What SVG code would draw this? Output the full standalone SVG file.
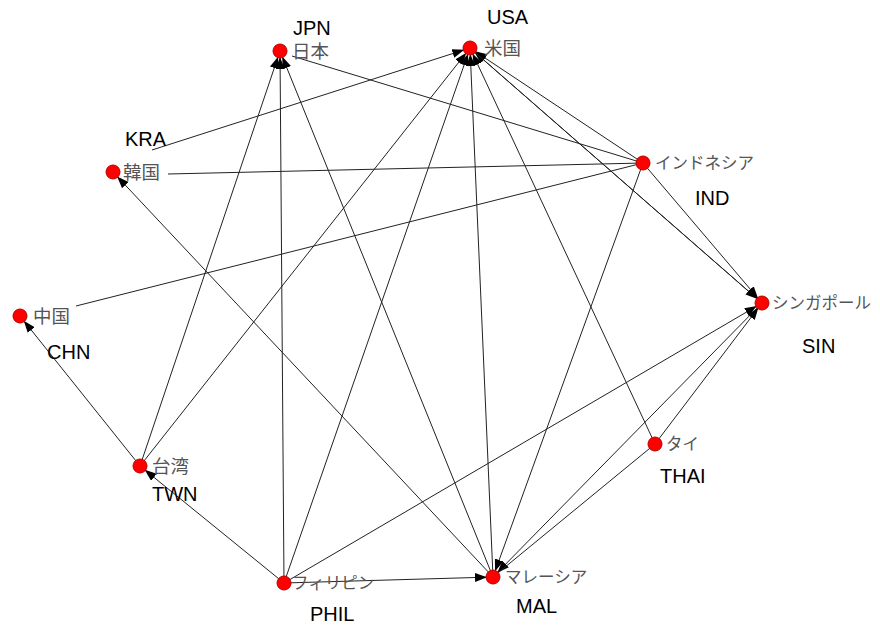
<svg xmlns="http://www.w3.org/2000/svg" width="880" height="628" viewBox="0 0 880 628">
<style>
.e{stroke:#222;stroke-width:1;fill:none}
.a{marker-end:url(#ah)}
.n{fill:#f00;stroke:#b00;stroke-width:1}
.jp{font-family:"Liberation Sans","Noto Sans CJK JP",sans-serif;font-size:16.5px;fill:#555}
.kj{font-size:18.5px}
.en{font-family:"Liberation Sans",Arial,sans-serif;font-size:20px;fill:#000}
</style>
<defs>
<marker id="ah" markerUnits="userSpaceOnUse" markerWidth="20" markerHeight="10" refX="18" refY="4.5" orient="auto">
<path d="M0,0 L12,4.5 L0,9 z" fill="#000"/>
</marker>
</defs>
<rect width="880" height="628" fill="#fff"/>
<g id="edges">
<line class="e a" x1="152" y1="150" x2="470" y2="48"/>
<line class="e" x1="643" y1="163" x2="168" y2="174"/>
<line class="e a" x1="493" y1="577" x2="113" y2="172"/>
<line class="e" x1="643" y1="163" x2="76" y2="306"/>
<line class="e a" x1="140" y1="466" x2="20" y2="316"/>
<line class="e a" x1="284" y1="583" x2="140" y2="466"/>
<line class="e a" x1="140" y1="466" x2="280" y2="51"/>
<line class="e a" x1="284" y1="583" x2="280" y2="51"/>
<line class="e a" x1="493" y1="577" x2="280" y2="51"/>
<line class="e" x1="292" y1="56" x2="643" y2="163"/>
<line class="e a" x1="140" y1="466" x2="470" y2="48"/>
<line class="e a" x1="284" y1="583" x2="470" y2="48"/>
<line class="e a" x1="493" y1="577" x2="470" y2="48"/>
<line class="e a" x1="655" y1="444" x2="470" y2="48"/>
<line class="e a" x1="643" y1="163" x2="470" y2="48"/>
<line class="e a" x1="762" y1="303" x2="470" y2="48"/>
<line class="e a" x1="470" y1="48" x2="762" y2="303"/>
<line class="e a" x1="643" y1="163" x2="762" y2="303"/>
<line class="e a" x1="643" y1="163" x2="493" y2="577"/>
<line class="e a" x1="762" y1="303" x2="493" y2="577"/>
<line class="e a" x1="284" y1="583" x2="493" y2="577"/>
<line class="e a" x1="284" y1="583" x2="762" y2="303"/>
<line class="e a" x1="655" y1="444" x2="762" y2="303"/>
<line class="e" x1="655" y1="444" x2="493" y2="577"/>
</g>
<g id="JPN"><circle class="n" cx="280" cy="51" r="7"/><text class="jp kj" x="292" y="58">日本</text><text class="en" x="293" y="35">JPN</text></g>
<g id="USA"><circle class="n" cx="470" cy="48" r="7"/><text class="jp kj" x="484" y="55">米国</text><text class="en" x="487" y="24">USA</text></g>
<g id="KRA"><circle class="n" cx="113" cy="172" r="7"/><text class="jp kj" x="123" y="179">韓国</text><text class="en" x="125" y="146">KRA</text></g>
<g id="IND"><circle class="n" cx="643" cy="163" r="7"/><text class="jp" x="655" y="169">インドネシア</text><text class="en" x="695" y="205">IND</text></g>
<g id="CHN"><circle class="n" cx="20" cy="316" r="7"/><text class="jp kj" x="33" y="323">中国</text><text class="en" x="47" y="359">CHN</text></g>
<g id="SIN"><circle class="n" cx="762" cy="303" r="7"/><text class="jp" x="772" y="309">シンガポール</text><text class="en" x="802" y="353">SIN</text></g>
<g id="TWN"><circle class="n" cx="140" cy="466" r="7"/><text class="jp kj" x="152" y="473">台湾</text><text class="en" x="152" y="501">TWN</text></g>
<g id="THAI"><circle class="n" cx="655" cy="444" r="7"/><text class="jp" x="666" y="450">タイ</text><text class="en" x="660" y="483">THAI</text></g>
<g id="PHIL"><circle class="n" cx="284" cy="583" r="7"/><text class="jp" x="292" y="589">フィリピン</text><text class="en" x="310" y="621">PHIL</text></g>
<g id="MAL"><circle class="n" cx="493" cy="577" r="7"/><text class="jp" x="505" y="583">マレーシア</text><text class="en" x="516" y="613">MAL</text></g>
</svg>
